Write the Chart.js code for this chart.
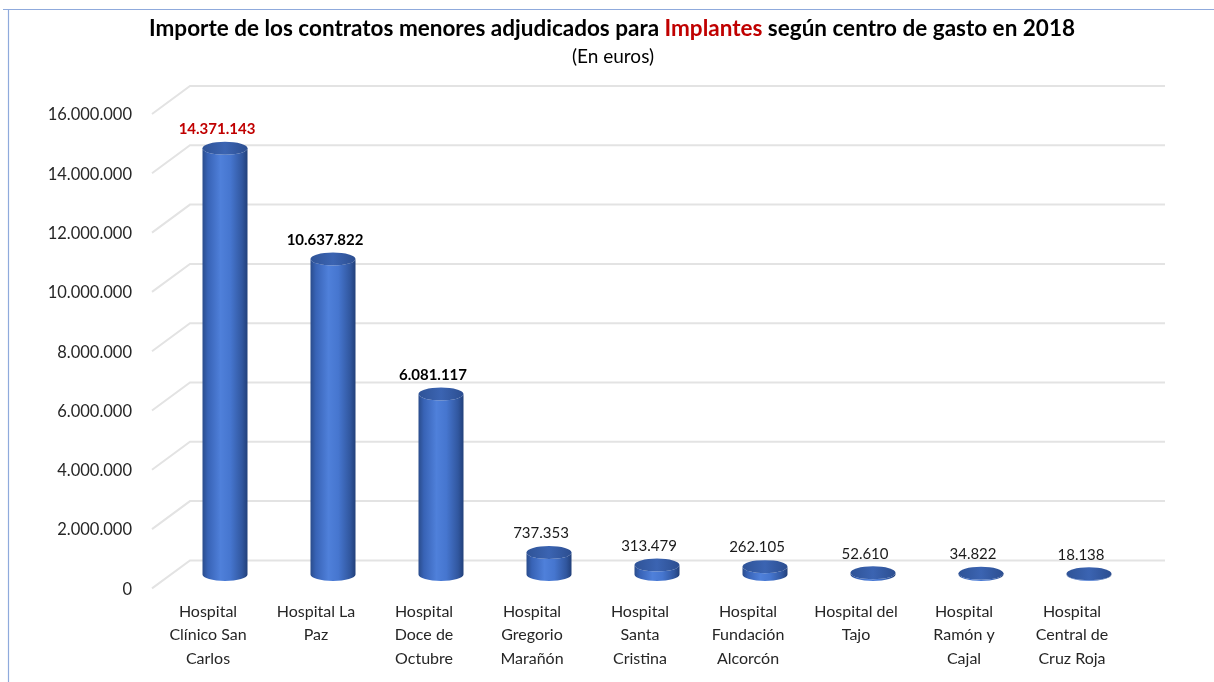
<!DOCTYPE html>
<html><head><meta charset="utf-8">
<script src="https://cdn.jsdelivr.net/npm/chart.js@4/dist/chart.umd.min.js"></script>
<style>html,body{margin:0;padding:0;background:#fff}#wrap{width:1214px;height:682px;position:relative}</style>
</head><body><div id="wrap"><canvas id="c" width="1214" height="682"></canvas></div>
<script>
const categories = [
  ["Hospital","Clínico San","Carlos"],
  ["Hospital La","Paz"],
  ["Hospital","Doce de","Octubre"],
  ["Hospital","Gregorio","Marañón"],
  ["Hospital","Santa","Cristina"],
  ["Hospital","Fundación","Alcorcón"],
  ["Hospital del","Tajo"],
  ["Hospital","Ramón y","Cajal"],
  ["Hospital","Central de","Cruz Roja"]
];
const importes = [14371143, 10637822, 6081117, 737353, 313479, 262105, 52610, 34822, 18138];
const yTicks = [0, 2000000, 4000000, 6000000, 8000000, 10000000, 12000000, 14000000, 16000000];
const titleParts = [["Importe de los contratos menores adjudicados para ", "#000"], ["Implantes", "#C00000"], [" según centro de gasto en 2018", "#000"]];
const subtitle = "(En euros)";

const FONT = "Lato, 'Open Sans', sans-serif";
function fmt(v){ return String(Math.round(v)).replace(/\B(?=(\d{3})+(?!\d))/g, "."); }

const DEPTH_X = 37, DEPTH_Y = 29;

const deco = {
  id: 'deco',
  beforeDatasetsDraw(chart){
    const ctx = chart.ctx, ca = chart.chartArea, ys = chart.scales.y;
    ctx.save();
    // frame border
    ctx.strokeStyle = '#8FAADC'; ctx.lineWidth = 1.2;
    ctx.beginPath(); ctx.moveTo(3, 9.5); ctx.lineTo(1214, 9.5); ctx.moveTo(8.5, 9.5); ctx.lineTo(8.5, 682); ctx.stroke();
    // title
    ctx.textBaseline = 'middle';
    ctx.font = "bold 22.5px " + FONT;
    let total = 0; titleParts.forEach(p => total += ctx.measureText(p[0]).width);
    let x = 612 - total/2;
    ctx.textAlign = 'left';
    titleParts.forEach(p => { ctx.fillStyle = p[1]; ctx.fillText(p[0], x, 29); x += ctx.measureText(p[0]).width; });
    ctx.font = "19px " + FONT; ctx.fillStyle = '#000'; ctx.textAlign = 'center';
    ctx.fillText(subtitle, 613, 57);
    // 3D grid
    ctx.strokeStyle = '#E3E3E3'; ctx.lineWidth = 2;
    yTicks.forEach(v => {
      const yf = ys.getPixelForValue(v);
      ctx.beginPath();
      ctx.moveTo(ca.left - 2, yf - 1);
      ctx.lineTo(ca.left - 2 + DEPTH_X + 1, yf - DEPTH_Y);
      ctx.lineTo(ca.right + DEPTH_X + 2, yf - DEPTH_Y);
      ctx.stroke();
    });
    ctx.restore();
  },
  afterDatasetsDraw(chart){
    const ctx = chart.ctx;
    const meta = chart.getDatasetMeta(0);
    ctx.save();
    meta.data.forEach((bar, i) => {
      const w = bar.width, rx = w/2, ry = 6.5;
      const cx = bar.x + 17;
      const top = bar.y - 15, base = bar.base - 15;
      const g = ctx.createLinearGradient(cx - rx, 0, cx + rx, 0);
      g.addColorStop(0, '#2A4C8C'); g.addColorStop(0.12, '#3863B6'); g.addColorStop(0.4, '#4F80DA');
      g.addColorStop(0.62, '#4676CF'); g.addColorStop(0.88, '#31579F'); g.addColorStop(1, '#22407A');
      ctx.fillStyle = g;
      ctx.beginPath();
      ctx.moveTo(cx - rx, top);
      ctx.lineTo(cx - rx, base);
      ctx.ellipse(cx, base, rx, ry, 0, Math.PI, 0, true);
      ctx.lineTo(cx + rx, top);
      ctx.ellipse(cx, top, rx, ry, 0, 0, Math.PI, false);
      ctx.closePath(); ctx.fill();
      const g2 = ctx.createLinearGradient(cx - rx, top, cx + rx, top);
      g2.addColorStop(0, '#2F5397'); g2.addColorStop(0.5, '#3B64B2'); g2.addColorStop(1, '#2C4E90');
      ctx.fillStyle = g2;
      ctx.beginPath(); ctx.ellipse(cx, top, rx, ry, 0, 0, Math.PI*2); ctx.fill();
      // value label
      const v = importes[i];
      ctx.textAlign = 'center'; ctx.textBaseline = 'middle';
      if (i === 0) { ctx.font = "bold 15px " + FONT; ctx.fillStyle = '#C00000'; }
      else if (i < 3) { ctx.font = "bold 15px " + FONT; ctx.fillStyle = '#000'; }
      else { ctx.font = "15px " + FONT; ctx.fillStyle = '#1a1a1a'; }
      ctx.fillText(fmt(v), bar.x + 9, top - 19);
    });
    ctx.restore();
  }
};

new Chart(document.getElementById('c'), {
  type: 'bar',
  data: { labels: categories, datasets: [{ data: importes, backgroundColor: 'rgba(0,0,0,0)', borderWidth: 0, categoryPercentage: 1, barPercentage: 45/108 }] },
  options: {
    responsive: false, animation: false,
    layout: { padding: { top: 115, right: 88, bottom: 1, left: 0 } },
    plugins: { legend: { display: false }, tooltip: { enabled: false }, title: { display: false } },
    scales: {
      x: {
        grid: { display: false, drawTicks: false }, border: { display: false },
        ticks: { padding: 11, color: '#262626', font: { family: FONT, size: 16, lineHeight: 1.45 }, maxRotation: 0, autoSkip: false }
      },
      y: {
        min: 0, max: 16000000,
        afterBuildTicks(s){ s.ticks = yTicks.map(v => ({ value: v })); },
        afterFit(s){ s.width = 154; },
        grid: { display: false, drawTicks: false }, border: { display: false },
        ticks: { padding: 22, color: '#262626', font: { family: FONT, size: 16.5 }, callback: v => fmt(v) }
      }
    }
  },
  plugins: [deco]
});
</script></body></html>
